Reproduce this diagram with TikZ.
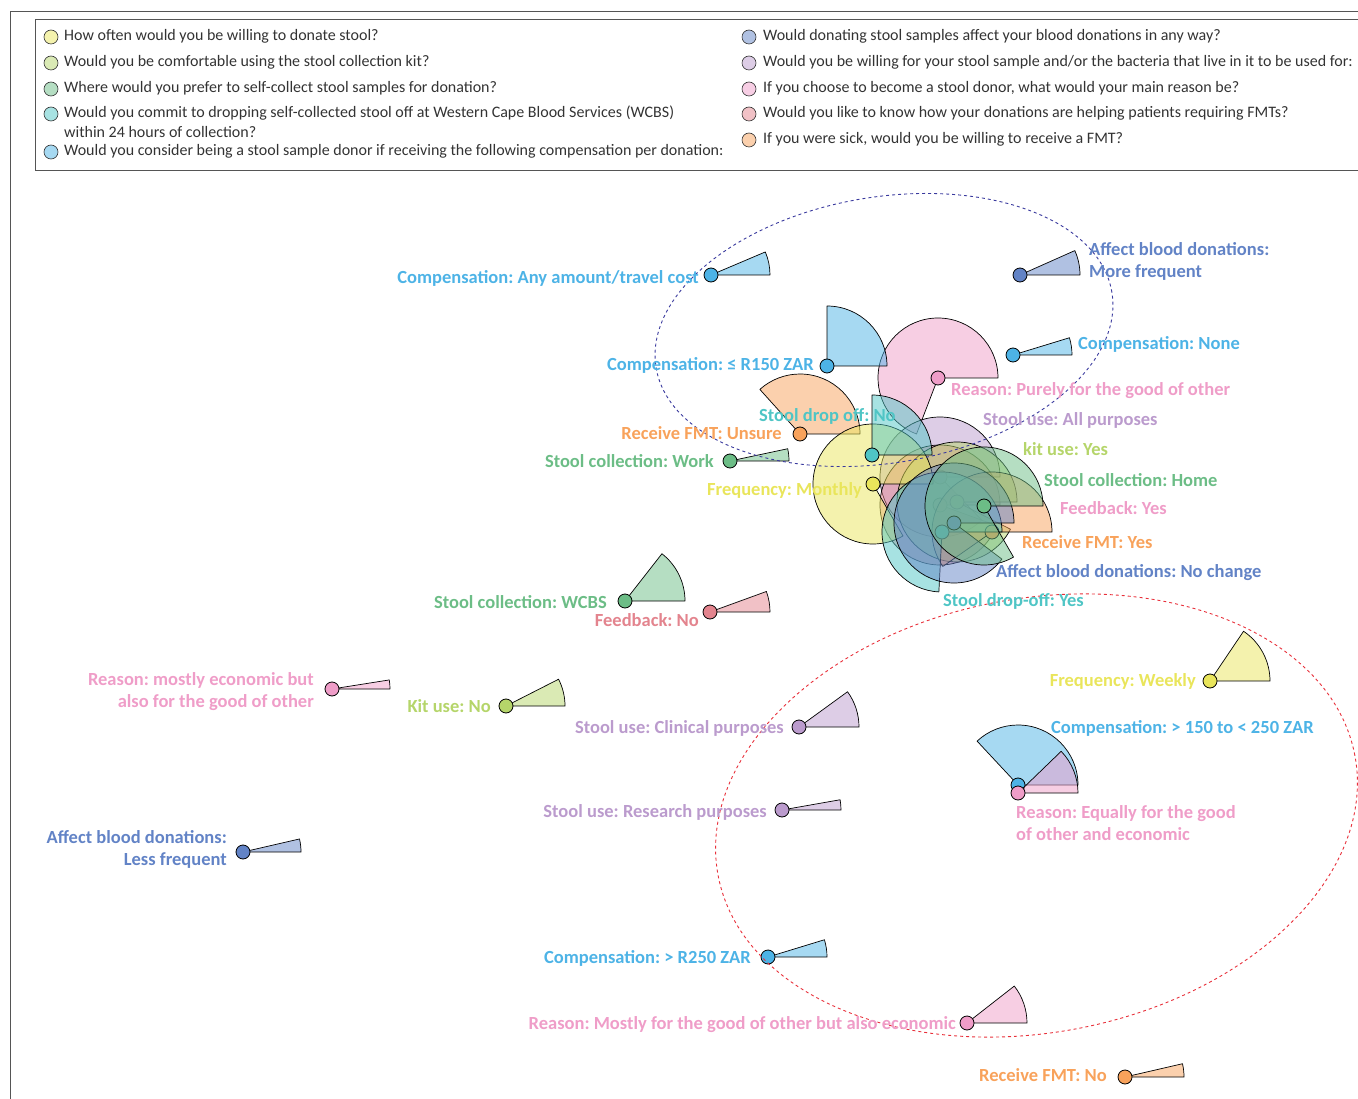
\documentclass[tikz,border=0pt]{standalone}
\usepackage{fontspec}
\setmainfont{Carlito}
\frenchspacing
\definecolor{freqC}{HTML}{E9E55B}
\definecolor{kitC}{HTML}{B5D56A}
\definecolor{collC}{HTML}{6CBD86}
\definecolor{dropC}{HTML}{4FC5C5}
\definecolor{compC}{HTML}{4DB3E6}
\definecolor{affC}{HTML}{6283C6}
\definecolor{useC}{HTML}{BB9BCD}
\definecolor{rsnC}{HTML}{EF9DC8}
\definecolor{fbC}{HTML}{E3848E}
\definecolor{fmtC}{HTML}{F8A25B}
\definecolor{legendgray}{HTML}{333333}
\definecolor{frameC}{HTML}{555555}
\definecolor{navyC}{HTML}{3A3A9E}
\definecolor{redC}{HTML}{E8303A}
\tikzset{
  dotstyle/.style={circle, draw=black, line width=0.8pt, minimum size=14pt, inner sep=0pt},
  lab/.style={font=\fontsize{18.5}{22}\selectfont\bfseries, inner sep=1pt},
  legtext/.style={font=\fontsize{16}{19}\selectfont, text=legendgray, anchor=west, inner sep=0pt},
  legdot/.style={circle, draw=black!80, line width=0.6pt, minimum size=14pt, inner sep=0pt},
}
% name, x, y, radius, sweep angle, colour
\newcommand{\qitem}[6]{%
  \filldraw[fill=#6, fill opacity=0.5, draw=black, line width=0.7pt, line join=round]
    (#2,#3) -- ++(#4,0) arc[start angle=0, end angle=#5, radius=#4pt] -- cycle;
  \node[dotstyle, fill=#6] (#1) at (#2,#3) {};
}
\begin{document}
\begin{tikzpicture}[x=1pt, y=-1pt]
\useasboundingbox (0,0) rectangle (1358,1099);
% frame and legend box
\draw[frameC, line width=0.9pt] (10,1099) -- (10,11) -- (1358,11);
\draw[frameC, line width=0.9pt] (1358,19) -- (35,19) -- (35,170) -- (1358,170);
% legend column 1
\node[legdot, fill=freqC!50] (g1) at (51,37) {};
\node[legtext] (t1) at (64,36) {How often would you be willing to donate stool?};
\node[legdot, fill=kitC!50] (g2) at (51,63) {};
\node[legtext] (t2) at (64,62) {Would you be comfortable using the stool collection kit?};
\node[legdot, fill=collC!50] (g3) at (51,89) {};
\node[legtext] (t3) at (64,88) {Where would you prefer to self-collect stool samples for donation?};
\node[legdot, fill=dropC!50] (g4) at (51,114) {};
\node[legtext] (t4) at (64,113) {Would you commit to dropping self-collected stool off at Western Cape Blood Services (WCBS)};
\node[legtext] (t4b) at (64,132) {within 24 hours of collection?};
\node[legdot, fill=compC!50] (g5) at (51,152) {};
\node[legtext] (t5) at (64,151) {Would you consider being a stool sample donor if receiving the following compensation per donation:};
% legend column 2
\node[legdot, fill=affC!50] (g6) at (749,37) {};
\node[legtext] (t6) at (763,36) {Would donating stool samples affect your blood donations in any way?};
\node[legdot, fill=useC!50] (g7) at (749,63) {};
\node[legtext] (t7) at (763,62) {Would you be willing for your stool sample and/or the bacteria that live in it to be used for:};
\node[legdot, fill=rsnC!50] (g8) at (749,89) {};
\node[legtext] (t8) at (763,88) {If you choose to become a stool donor, what would your main reason be?};
\node[legdot, fill=fbC!50] (g9) at (749,114) {};
\node[legtext] (t9) at (763,113) {Would you like to know how your donations are helping patients requiring FMTs?};
\node[legdot, fill=fmtC!50] (g10) at (749,140) {};
\node[legtext] (t10) at (763,139) {If you were sick, would you be willing to receive a FMT?};

% isolated items
\qitem{company}{711}{275}{59}{23}{compC}
\qitem{affmore}{1020}{275}{60}{24}{affC}
\qitem{compnone}{1013}{355}{59}{17}{compC}
\qitem{collwork}{730}{461}{59}{12}{collC}
\qitem{collwcbs}{625}{601}{60}{52}{collC}
\qitem{fbno}{710}{612}{60}{20}{fbC}
\qitem{rsnecon}{332}{689}{58}{9}{rsnC}
\qitem{kitno}{506}{706}{59}{27}{kitC}
\qitem{weekly}{1210}{681}{60}{56}{freqC}
\qitem{clinical}{799}{727}{60}{36}{useC}
\qitem{compmid}{1018}{785}{60}{133}{compC}
\qitem{rsnequal}{1018}{793}{60}{44}{rsnC}
\qitem{research}{782}{810}{59}{10}{useC}
\qitem{affless}{243}{852}{58}{13}{affC}
\qitem{comphigh}{768}{957}{59}{17}{compC}
\qitem{rsnmostly}{967}{1023}{60}{38}{rsnC}
\qitem{fmtno}{1125}{1077}{59}{13}{fmtC}
% central cluster
\qitem{rsnpure}{938}{378}{60}{249}{rsnC}
\qitem{complow}{827}{366}{60}{90}{compC}
\qitem{fmtunsure}{800}{434}{60}{132}{fmtC}
\qitem{useall}{940}{477}{60}{314}{useC}
\qitem{fbyes}{940}{505}{60}{340}{fbC}
\qitem{kityes}{957}{502}{60}{333}{kitC}
\qitem{fmtyes}{992}{532}{60}{215}{fmtC}
\qitem{monthly}{873}{484}{60}{300}{freqC}
\qitem{dropno}{872}{455}{60}{90}{dropC}
\qitem{dropyes}{942}{532}{60}{267}{dropC}
\qitem{affsame}{954}{523}{60}{323}{affC}
\qitem{collhome}{984}{506}{59}{300}{collC}

% dashed groupings
\draw[navyC, dashed, line width=0.9pt, rotate around={9.4:(884,330)}] (884,330) ellipse [x radius=231pt, y radius=133pt];
\draw[redC, dashed, line width=0.9pt, rotate around={10.7:(1036.5,815.5)}] (1036.5,815.5) ellipse [x radius=324pt, y radius=217pt];

% labels
\node[lab, text=compC, anchor=east] (l1) at (700,278) {Compensation: Any amount/travel cost};
\node[lab, text=affC, anchor=west, align=left] (l2) at (1088,261) {Affect blood donations:\\More frequent};
\node[lab, text=compC, anchor=west] (l3) at (1077,344) {Compensation: None};
\node[lab, text=compC, anchor=east] (l4) at (815,365) {Compensation: ≤ R150 ZAR};
\node[lab, text=rsnC, anchor=west] (l5) at (950,391) {Reason: Purely for the good of other};
\node[lab, text=dropC, anchor=west] (l6) at (758,416) {Stool drop off: No};
\node[lab, text=useC, anchor=west] (l7) at (982,420) {Stool use: All purposes};
\node[lab, text=fmtC, anchor=east] (l8) at (783,433) {Receive FMT: Unsure};
\node[lab, text=kitC, anchor=west] (l9) at (1022,449) {kit use: Yes};
\node[lab, text=collC, anchor=east] (l10) at (715,461) {Stool collection: Work};
\node[lab, text=collC, anchor=west] (l11) at (1043,480) {Stool collection: Home};
\node[lab, text=freqC, anchor=west] (l12) at (706,490) {Frequency: Monthly};
\node[lab, text=rsnC, anchor=west] (l13) at (1059,508) {Feedback: Yes};
\node[lab, text=fmtC, anchor=west] (l14) at (1021,542) {Receive FMT: Yes};
\node[lab, text=affC, anchor=west] (l15) at (995,573) {Affect blood donations: No change};
\node[lab, text=dropC, anchor=west] (l16) at (942,601) {Stool drop-off: Yes};
\node[lab, text=collC, anchor=east] (l17) at (608,602) {Stool collection: WCBS};
\node[lab, text=fbC, anchor=east] (l18) at (700,620) {Feedback: No};
\node[lab, text=rsnC, anchor=east, align=right] (l19) at (315,692) {Reason: mostly economic but\\also for the good of other};
\node[lab, text=kitC, anchor=east] (l20) at (492,706) {Kit use: No};
\node[lab, text=freqC, anchor=east] (l21) at (1197,681) {Frequency: Weekly};
\node[lab, text=useC, anchor=east] (l22) at (785,728) {Stool use: Clinical purposes};
\node[lab, text=compC, anchor=west] (l23) at (1050,728) {Compensation: > 150 to < 250 ZAR};
\node[lab, text=useC, anchor=east] (l24) at (768,812) {Stool use: Research purposes};
\node[lab, text=rsnC, anchor=west, align=left] (l25) at (1015,823) {Reason: Equally for the good\\of other and economic};
\node[lab, text=affC, anchor=east, align=right] (l26) at (228,849) {Affect blood donations:\\Less frequent};
\node[lab, text=compC, anchor=east] (l27) at (752,958) {Compensation: > R250 ZAR};
\node[lab, text=rsnC, anchor=east] (l28) at (957,1025) {Reason: Mostly for the good of other but also economic};
\node[lab, text=fmtC, anchor=east] (l29) at (1108,1075) {Receive FMT: No};
\end{tikzpicture}
\end{document}
